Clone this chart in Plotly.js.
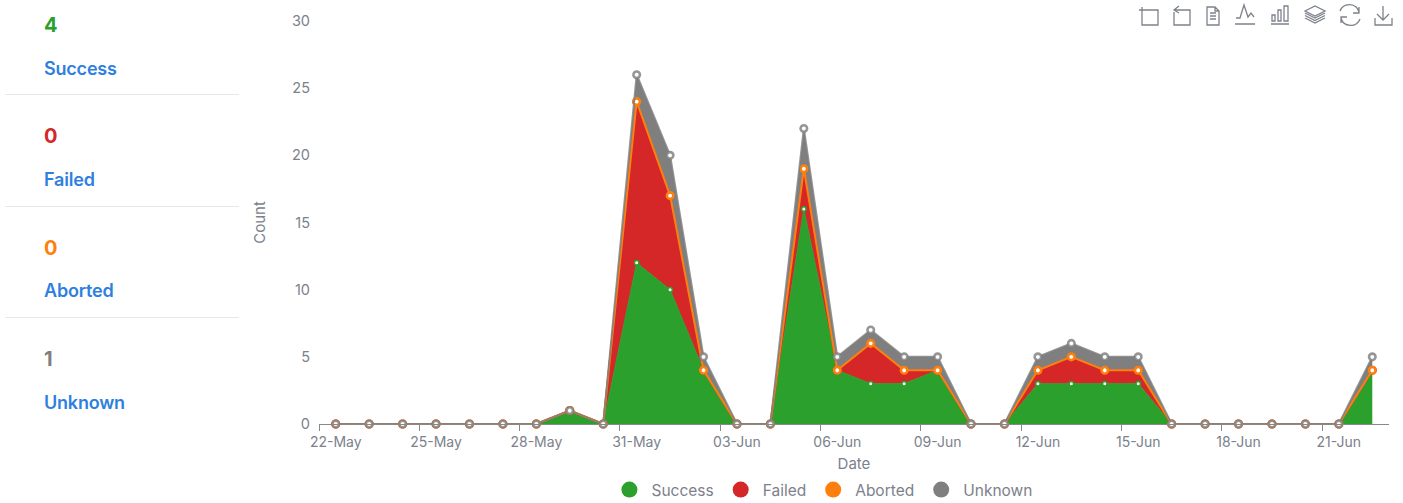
<!DOCTYPE html>
<html><head><meta charset="utf-8">
<script src="https://cdn.plot.ly/plotly-3.0.1.min.js"></script>
<style>
html,body{margin:0;padding:0;background:#fff;width:1403px;height:503px;overflow:hidden;font-family:Inter,sans-serif}
#chart{position:absolute;left:0;top:0;width:1403px;height:503px}
.kv{position:absolute;left:44px;font-size:20px;font-weight:700;line-height:24px}
.kl{position:absolute;left:44px;font-size:18px;font-weight:600;line-height:24px;color:#2f7fe0;letter-spacing:-.2px}
.kr{position:absolute;left:5px;width:234px;height:1px;background:#e6e8ec}
#tools{position:absolute;left:0;top:0}
</style></head><body>
<div id="chart"></div>
<div id="panel"></div>
<svg id="tools" width="1403" height="40" fill="none" stroke="#7d828b" stroke-width="1.3"></svg>
<script>
const dates=['22-May','23-May','24-May','25-May','26-May','27-May','28-May','29-May','30-May','31-May','01-Jun','02-Jun','03-Jun','04-Jun','05-Jun','06-Jun','07-Jun','08-Jun','09-Jun','10-Jun','11-Jun','12-Jun','13-Jun','14-Jun','15-Jun','16-Jun','17-Jun','18-Jun','19-Jun','20-Jun','21-Jun','22-Jun'];
const success=[0,0,0,0,0,0,0,1,0,12,10,4,0,0,16,4,3,3,4,0,0,3,3,3,3,0,0,0,0,0,0,4];
const failed =[0,0,0,0,0,0,0,0,0,12,7,0,0,0,3,0,3,1,0,0,0,1,2,1,1,0,0,0,0,0,0,0];
const aborted=[0,0,0,0,0,0,0,0,0,0,0,0,0,0,0,0,0,0,0,0,0,0,0,0,0,0,0,0,0,0,0,0];
const unknown=[0,0,0,0,0,0,0,0,0,2,3,1,0,0,3,1,1,1,1,0,0,1,1,1,1,0,0,0,0,0,0,1];
const names=['Success','Failed','Aborted','Unknown'];
const colors=['#2ca02c','#d62728','#ff7f0e','#7f7f7f'];
const strokes=['#2ca02c','#d62728','#ff7f0e','rgba(127,127,127,0.82)'];
const kpiValues=[4,0,0,1];
const seriesValues=[success,failed,aborted,unknown];
const grey='#7c818c';

const traces=names.map((n,i)=>({
  type:'scatter',mode:'lines+markers',name:n,x:dates,y:seriesValues[i],stackgroup:'a',cliponaxis:false,
  fillcolor:colors[i],showlegend:false,hoverinfo:'x+y+name',
  line:{color:strokes[i],width:i===0?1:2},
  marker:{symbol:'circle',size:i===0?4.5:6.5,color:'#fff',line:{color:strokes[i],width:i===0?1.5:2.6}}
}));
names.forEach((n,i)=>traces.push({type:'scatter',mode:'markers',name:n,x:[dates[0]],y:[null],
  marker:{symbol:'circle',size:16,color:colors[i]},showlegend:true,hoverinfo:'skip'}));

const layout={
  width:1403,height:503,paper_bgcolor:'#fff',plot_bgcolor:'#fff',showlegend:true,
  font:{family:'Inter, sans-serif',color:grey,size:14},
  margin:{l:319,r:14,t:21,b:78.5,pad:0},
  xaxis:{type:'category',categoryorder:'array',categoryarray:dates,range:[-0.5,31.5],tickson:'boundaries',
    dtick:3,tick0:0,ticks:'outside',ticklen:6,tickcolor:'#888',showline:true,linecolor:'#888',linewidth:1,
    showgrid:false,zeroline:false,tickangle:0,ticklabelstandoff:5,tickfont:{size:14,color:grey},
    title:{text:'Date',font:{size:15,color:grey},standoff:9}},
  yaxis:{range:[0,30],dtick:5,showgrid:false,zeroline:false,showline:false,ticks:'',ticklabelstandoff:8,
    tickfont:{size:14.5,color:grey},title:{text:'Count',font:{size:15,color:grey},standoff:22}},
  legend:{orientation:'h',x:0.4705,xanchor:'center',xref:'paper',yref:'container',y:0.0258,yanchor:'middle',
    font:{size:15.5,color:grey},itemwidth:34,itemclick:false,itemdoubleclick:false,traceorder:'normal'}
};
Plotly.newPlot('chart',traces,layout,{displayModeBar:false,responsive:false});

const panel=document.getElementById('panel');
const valueTops=[13,124,236,347];
const labelTops=[57,168,279,391];
const ruleTops=[94,206,317];
names.forEach((n,i)=>{
  panel.insertAdjacentHTML('beforeend',
   `<div class="kv" style="top:${valueTops[i]}px;color:${colors[i]}">${kpiValues[i]}</div>`+
   `<div class="kl" style="top:${labelTops[i]}px">${n}</div>`+
   (i<3?`<div class="kr" style="top:${ruleTops[i]}px"></div>`:''));
});
document.getElementById('tools').innerHTML=`
<path d="M1142 10H1158V25H1142V7M1139 10H1142"/>
<path d="M1175 10H1190V25H1174V12M1179 6L1174 10L1179 13"/>
<path d="M1207 7H1215L1219 11V25H1207ZM1215 7V11H1219M1210 13H1216M1210 16H1216M1210 19H1216"/>
<path d="M1235 24H1255M1236 18H1240L1244 5L1248 17L1251 13L1254 17"/>
<path d="M1271 24H1289M1272 21V15H1275V21ZM1278 21V10H1281V21ZM1284 21V6H1288V21Z"/>
<path d="M1305 11L1315 6L1325 11L1315 16ZM1305 13L1315 18L1325 13M1305 15.5L1315 20.5L1325 15.5M1305 18L1315 23L1325 18"/>
<path d="M1340 11A10 10 0 0 1 1359 12M1360 19A10 10 0 0 1 1341 18M1359 7V13H1353M1341 23V17H1347"/>
<path d="M1383 6V20M1377 14L1383 20L1389 14M1375 18V25H1392V18"/>`;
</script></body></html>
